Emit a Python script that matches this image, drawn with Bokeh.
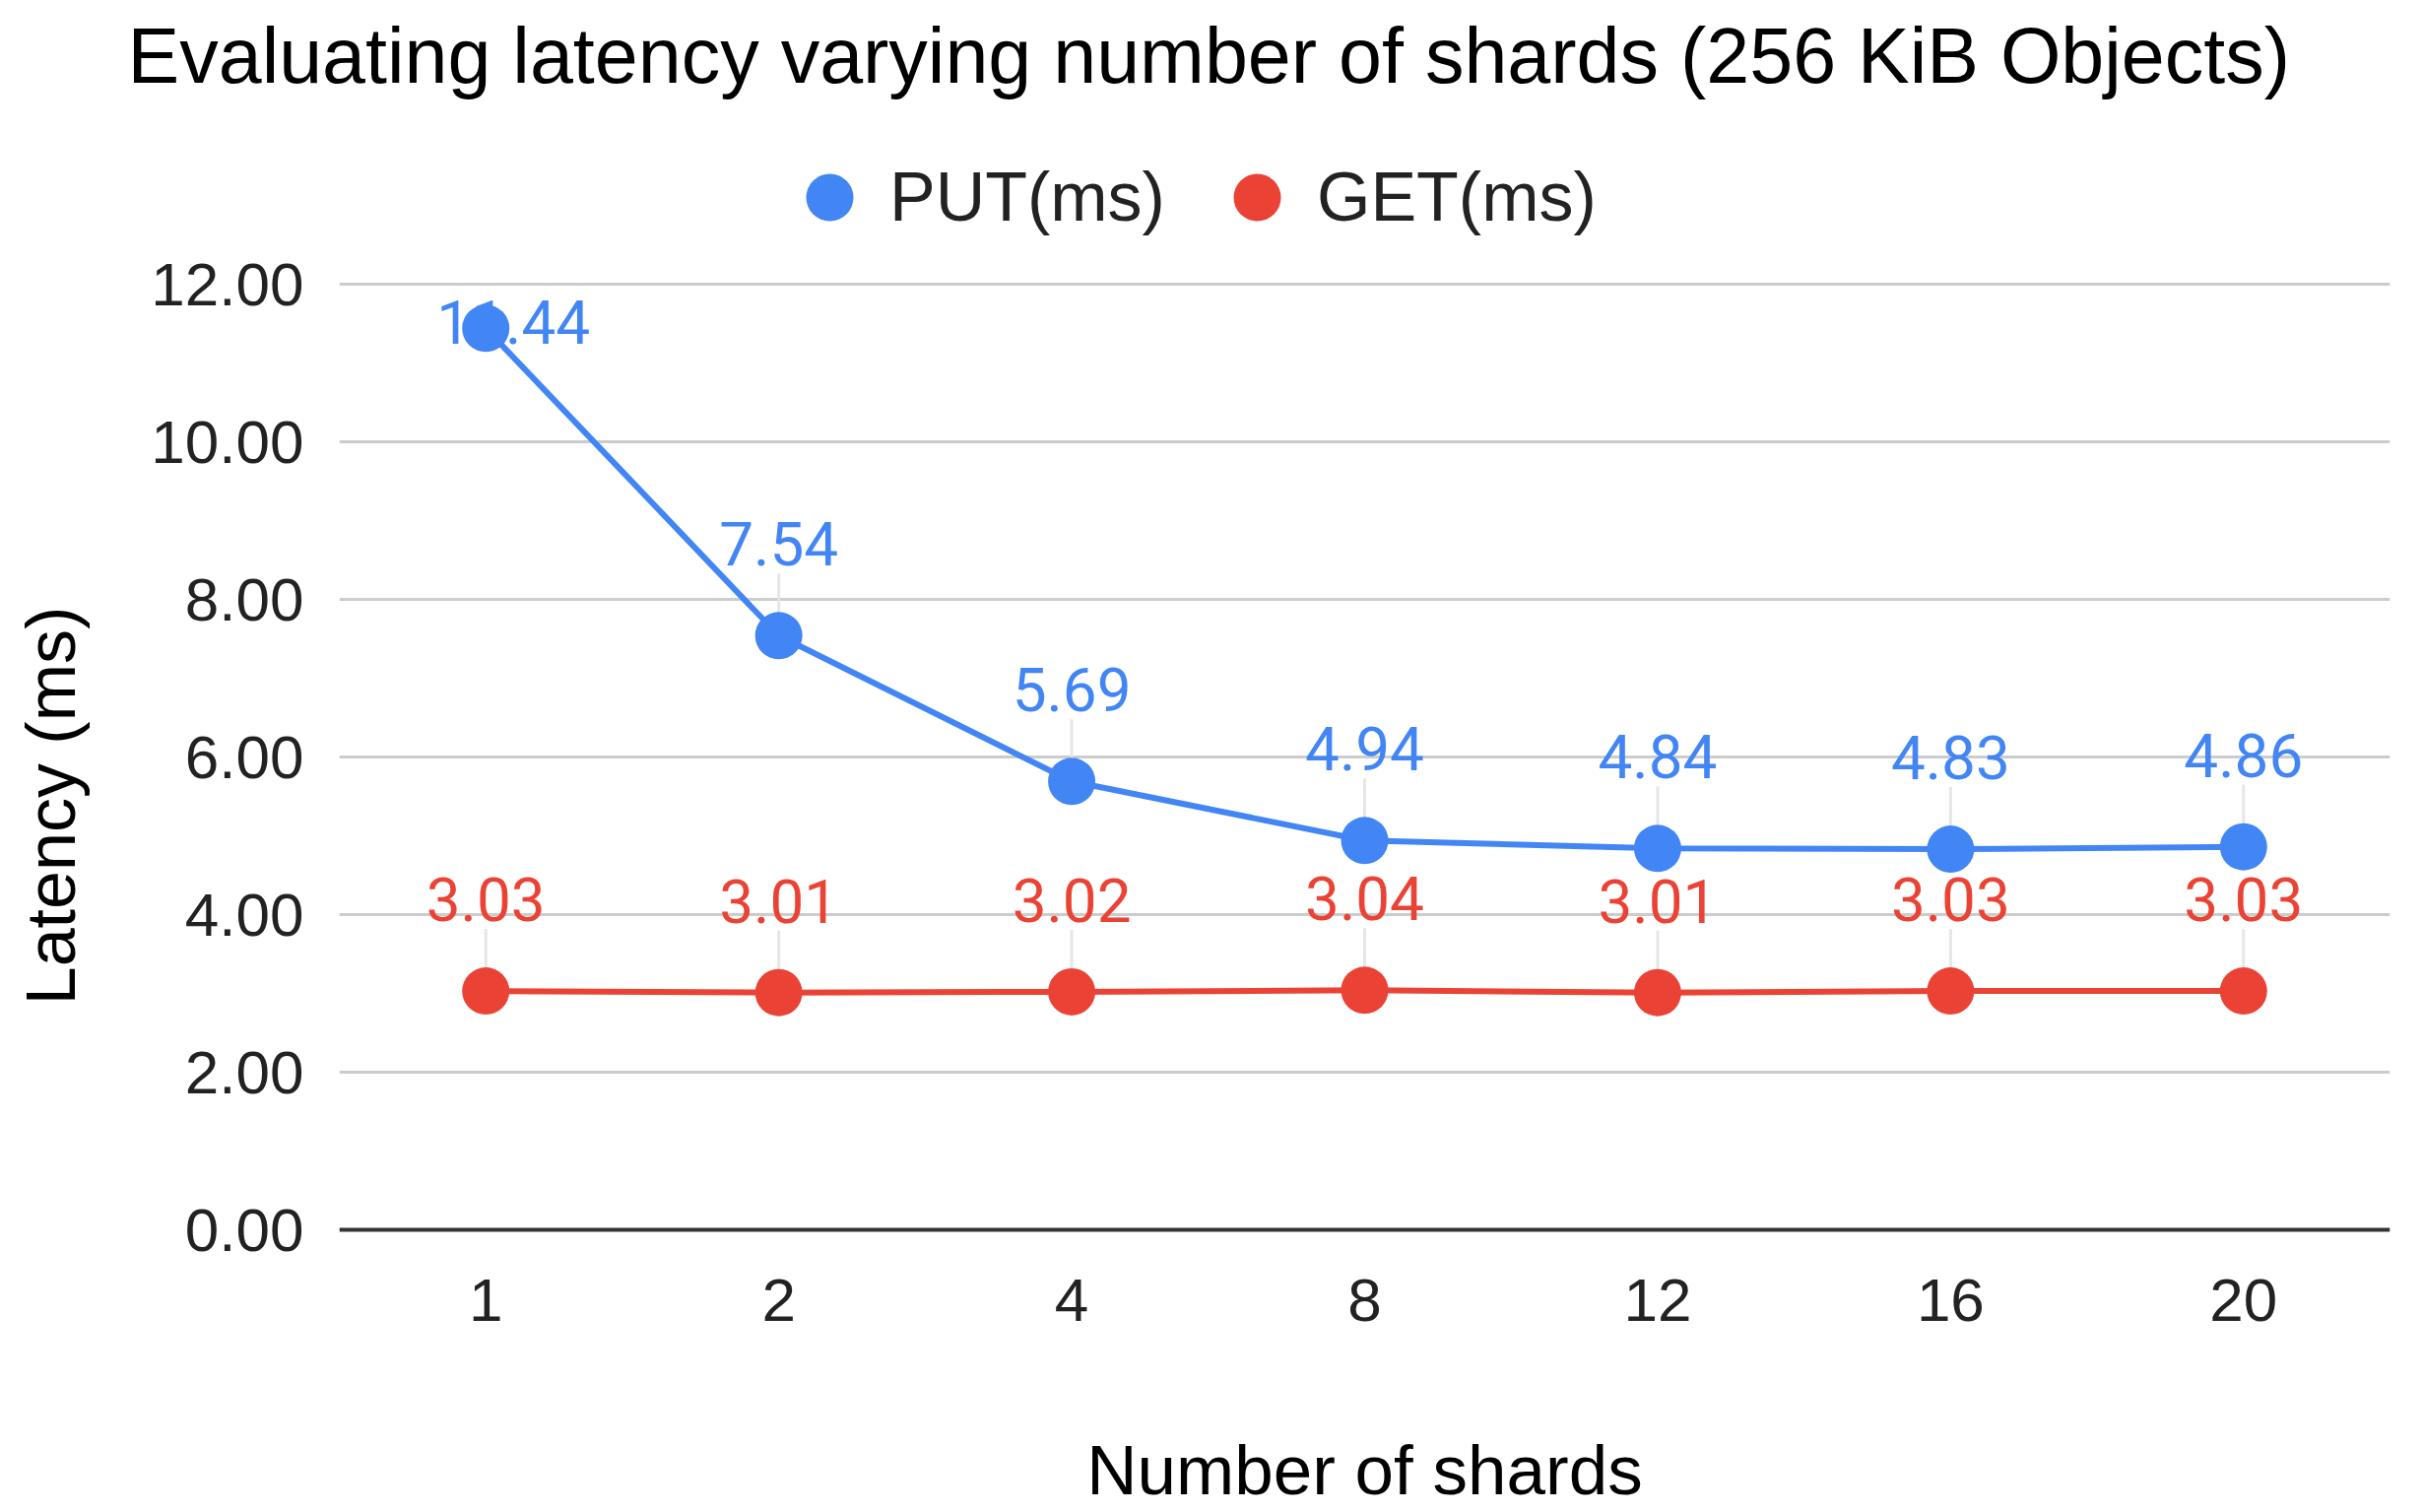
from bokeh.plotting import figure
from bokeh.models import (ColumnDataSource, FactorRange, Range1d, FixedTicker,
                          PrintfTickFormatter, LabelSet, Legend, LegendItem, Title)
from bokeh.core.properties import value
from bokeh.embed import file_html
from bokeh.resources import INLINE

# ---------------- data ----------------
shards = ["1", "2", "4", "8", "12", "16", "20"]
put_ms = [11.44, 7.54, 5.69, 4.94, 4.84, 4.83, 4.86]
get_ms = [3.03, 3.01, 3.02, 3.04, 3.01, 3.03, 3.03]
series_names = ["PUT(ms)", "GET(ms)"]
series_colors = ["#4285F4", "#EA4335"]
y_ticks = [0, 2, 4, 6, 8, 10, 12]
title_text = "Evaluating latency varying number of shards (256 KiB Objects)"
x_title = "Number of shards"
y_title = "Latency (ms)"

# ---------------- layout ----------------
W, H = 2457, 1533
PX_PER_Y = 80.0
L, R, T = 344, 2426, 102           # frame left/right/top (pixels)
Y0 = 1248                          # pixel row of the value 0
FB = 1533                          # frame bottom (canvas bottom)
YMAX = (Y0 - T) / PX_PER_Y
YMIN = -(FB - Y0) / PX_PER_Y

TEXT_FONT = "Liberation Sans"
LABEL_FONT = "Roboto"

p = figure(width=W, height=H, x_range=FactorRange(factors=shards),
           y_range=Range1d(YMIN, YMAX), output_backend="svg", toolbar_location=None,
           min_border_left=L, min_border_right=W - R, min_border_top=T,
           min_border_bottom=H - FB)
p.outline_line_color = None
p.background_fill_color = "white"
p.border_fill_color = "white"

# axes
p.yaxis.ticker = FixedTicker(ticks=y_ticks)
p.yaxis.formatter = PrintfTickFormatter(format="%.2f")
p.yaxis.axis_line_color = None
p.yaxis.major_tick_line_color = None
p.yaxis.minor_tick_line_color = None
p.yaxis.major_label_standoff = 30
p.yaxis.major_label_text_font = TEXT_FONT
p.yaxis.major_label_text_font_size = "62px"
p.yaxis.major_label_text_color = "#222222"
p.yaxis.axis_label = y_title
p.yaxis.axis_label_text_font = TEXT_FONT
p.yaxis.axis_label_text_font_size = "70px"
p.yaxis.axis_label_text_font_style = "normal"
p.yaxis.axis_label_text_color = "#000000"
p.yaxis.axis_label_standoff = 59

p.xaxis.fixed_location = 0
p.xaxis.axis_line_color = "#333333"
p.xaxis.axis_line_width = 4
p.xaxis.major_tick_line_color = None
p.xaxis.minor_tick_line_color = None
p.xaxis.major_label_standoff = 44
p.xaxis.major_label_text_font = TEXT_FONT
p.xaxis.major_label_text_font_size = "62px"
p.xaxis.major_label_text_color = "#222222"

p.xgrid.grid_line_color = None
p.ygrid.grid_line_color = "#cccccc"
p.ygrid.grid_line_width = 3

# ---------------- series ----------------
LABEL_GAP = 71 / PX_PER_Y          # baseline above the point
LABEL_CAP = 12.0 - 60 / PX_PER_Y   # keep labels inside the chart
LEADER_GAP = 8 / PX_PER_Y
CLAMP_SHIFT = 28                   # clamped labels slide right of the point

scatters = []
for name, vals, color in zip(series_names, [put_ms, get_ms], series_colors):
    label_y = [min(v + LABEL_GAP, LABEL_CAP) for v in vals]
    src = ColumnDataSource(dict(
        x=shards, y=vals, ly=label_y,
        dx=[CLAMP_SHIFT if ly < v + LABEL_GAP else 0 for v, ly in zip(vals, label_y)],
        txt=[f"{v:.2f}" for v in vals]))
    keep = [i for i, (v, ly) in enumerate(zip(vals, label_y)) if ly - LEADER_GAP > v]
    p.segment(x0=[shards[i] for i in keep], y0=[vals[i] for i in keep],
              x1=[shards[i] for i in keep], y1=[label_y[i] - LEADER_GAP for i in keep],
              line_color="#e6e6e6", line_width=3)
    p.line("x", "y", source=src, line_color=color, line_width=6)
    sc = p.scatter("x", "y", source=src, size=48, fill_color=color,
                   line_color=None, marker="circle")
    scatters.append(sc)
    p.add_layout(LabelSet(x="x", y="ly", text="txt", source=src, x_offset="dx",
                          text_align="center", text_baseline="alphabetic",
                          text_font=value(LABEL_FONT), text_font_size="62px",
                          text_color=color))

# ---------------- legend ----------------
legend = Legend(items=[LegendItem(label=n, renderers=[s])
                       for n, s in zip(series_names, scatters)],
                orientation="horizontal", location=(782 - L, FB - 260),
                glyph_width=120, glyph_height=120, label_standoff=1,
                spacing=33, padding=0, margin=0,
                label_text_font=TEXT_FONT, label_text_font_size="70px",
                label_text_color="#222222", border_line_color=None,
                background_fill_alpha=0)
p.add_layout(legend, "center")

# ---------------- titles ----------------
p.add_layout(Title(text=title_text, align="left", offset=129 - L, standoff=4,
                   text_font=TEXT_FONT, text_font_size="79px",
                   text_font_style="normal", text_color="#000000"), "above")
xt_src = ColumnDataSource(dict(x=[len(shards) / 2], y=[-(1516 - Y0) / PX_PER_Y],
                               t=[x_title]))
p.add_layout(LabelSet(x="x", y="y", text="t", source=xt_src,
                      text_align="center", text_baseline="alphabetic",
                      text_font=value(TEXT_FONT), text_font_size="71px",
                      text_color="#000000"))

open("out.html", "w").write(file_html(p, INLINE))
